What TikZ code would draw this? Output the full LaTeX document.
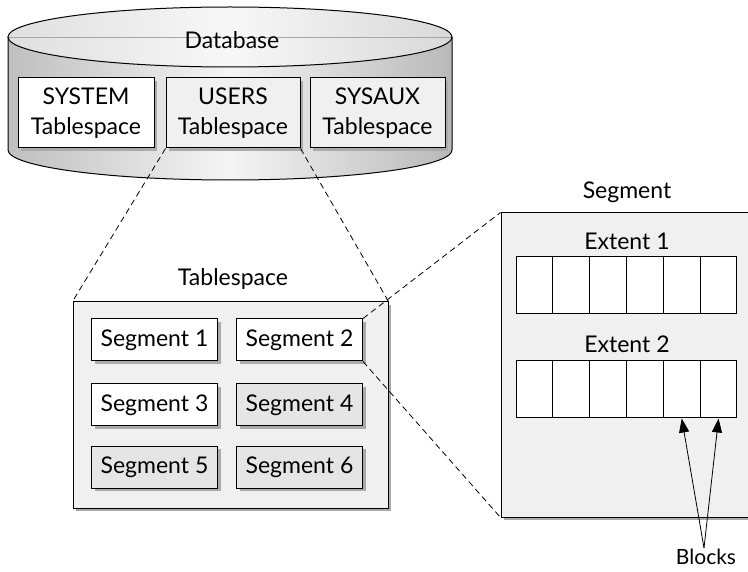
\documentclass[tikz,border=0pt]{standalone}
\usepackage{fontspec}
\setmainfont{Lato}
\usetikzlibrary{arrows.meta, positioning, shadows}
\definecolor{panelgray}{RGB}{240,240,240}
\definecolor{cellgray}{RGB}{229,229,229}
\definecolor{shadowgray}{RGB}{170,170,170}

\tikzset{
  boxshadow/.style={drop shadow={shadow xshift=3pt, shadow yshift=-3pt, fill=shadowgray, opacity=1}},
  tsbox/.style={draw, line width=1pt, fill=white, minimum height=70, align=center, boxshadow},
  segbox/.style={draw, line width=1pt, fill=white, minimum width=126, minimum height=42, boxshadow},
  panel/.style={draw, line width=1pt, fill=panelgray, boxshadow},
  cell/.style={draw, line width=1pt, fill=white, minimum width=36.83, minimum height=57, inner sep=0pt},
  zoomline/.style={dash pattern=on 6pt off 4pt, line width=0.8pt},
  caption/.style={font=\fontsize{23}{28}\selectfont}
}

\begin{document}
\begin{tikzpicture}[x=1pt, y=-1pt, font=\fontsize{23}{30}\selectfont]
\clip (0,0) rectangle (748,572);
\fill[white] (0,0) rectangle (748,572);

% Database cylinder
\shade[left color=gray!50, right color=gray!55, middle color=gray!8]
  (8,37) -- (8,150) arc[start angle=180, end angle=0, x radius=222, y radius=30] -- (452,37) -- cycle;
\draw[line width=1pt] (8,37) -- (8,150) arc[start angle=180, end angle=0, x radius=222, y radius=30] -- (452,37);
\shade[left color=gray!25, right color=gray!30, middle color=gray!6] (230,37) ellipse[x radius=222, y radius=30];
\draw[gray!70, line width=0.8pt] (8,37) -- (452,37);
\draw[line width=1pt] (230,37) ellipse[x radius=222, y radius=30];
\node[caption] (db) at (232,40) {Database};

% Tablespaces in the database
\node[tsbox, minimum width=136] (system) at (86,113) {SYSTEM\\Tablespace};
\node[tsbox, minimum width=134, fill=panelgray] (users) at (233,113) {USERS\\Tablespace};
\node[tsbox, minimum width=135, fill=panelgray] (sysaux) at (377.5,113) {SYSAUX\\Tablespace};

% Tablespace panel
\node[caption] (tslabel) at (233,279) {Tablespace};
\node[panel, minimum width=315, minimum height=206] (tspanel) at (230.5,405) {};

\node[segbox] (seg1) at (154.5,340) {Segment 1};
\node[segbox] (seg2) at (299.5,340) {Segment 2};
\node[segbox] (seg3) at (154.5,405) {Segment 3};
\node[segbox, fill=cellgray] (seg4) at (299.5,405) {Segment 4};
\node[segbox, fill=cellgray] (seg5) at (154.5,467) {Segment 5};
\node[segbox, fill=cellgray] (seg6) at (299.5,467) {Segment 6};

% Segment panel (runs off the right edge)
\node[caption] (seglabel) at (627,192) {Segment};
\node[panel, minimum width=290, minimum height=304] (segpanel) at (646,365) {};

\node[caption] (ext1) at (627,241) {Extent 1};
\node[caption] (ext2) at (627,344) {Extent 2};
\foreach \i in {1,...,6} {
  \node[cell] (ea\i) at ({516+(\i-0.5)*36.83},285.5) {};
  \node[cell] (eb\i) at ({516+(\i-0.5)*36.83},389.5) {};
}

% Blocks
\node[font=\fontsize{21}{25}\selectfont, inner sep=1pt] (blocks) at (706,557) {Blocks};
\draw[-{Triangle[length=14pt, width=10pt]}, line width=0.8pt] ([xshift=-2pt]blocks.north) -- (eb5.south);
\draw[-{Triangle[length=14pt, width=10pt]}, line width=0.8pt] ([xshift=-2pt]blocks.north) -- (eb6.south);

% Zoom lines
\draw[zoomline] (users.south west) -- (tspanel.north west);
\draw[zoomline] (users.south east) -- (tspanel.north east);
\draw[zoomline] (seg2.north east) -- (segpanel.north west);
\draw[zoomline] (seg2.south east) -- (segpanel.south west);
\end{tikzpicture}
\end{document}
